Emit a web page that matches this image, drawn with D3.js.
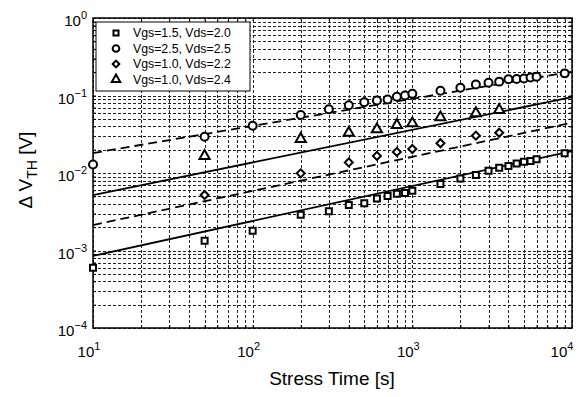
<!DOCTYPE html>
<html>
<head>
<meta charset="utf-8">
<script src="https://cdn.jsdelivr.net/npm/d3@7"></script>
<style>
body { margin:0; background:#fff; }
text { font-family: "Liberation Sans", Arial, sans-serif; }
</style>
</head>
<body>
<svg></svg>
<script>
// stress times (s)
var tA = [10,50,100,200,300,400,500,600,700,800,900,1000,1500,2000,2500,3000,3500,4000,4500,5000,5500,6000,9000]
var tB = [50,200,400,600,800,1000,1500,2500,3500]

// Vgs=1.5, Vds=2.0 (squares)
var sq = [6.0e-4,1.34e-3,1.8e-3,2.9e-3,3.2e-3,3.86e-3,4.07e-3,4.7e-3,5.05e-3,5.4e-3,5.5e-3,5.9e-3,7.2e-3,8.5e-3,9.4e-3,1.07e-2,1.17e-2,1.23e-2,1.33e-2,1.4e-2,1.43e-2,1.5e-2,1.8e-2]
// Vgs=2.5, Vds=2.5 (circles)
var ci = [1.29e-2,2.94e-2,4.07e-2,5.6e-2,6.64e-2,7.5e-2,8.2e-2,8.6e-2,8.9e-2,9.66e-2,0.1,0.105,0.115,0.126,0.139,0.146,0.151,0.162,0.163,0.166,0.171,0.175,0.193]
// Vgs=1.0, Vds=2.2 (diamonds)
var di = [5.2e-3,9.9e-3,1.37e-2,1.66e-2,1.87e-2,2.04e-2,2.42e-2,3.03e-2,3.31e-2]
// Vgs=1.0, Vds=2.4 (triangles)
var tr = [1.66e-2,2.75e-2,3.3e-2,3.66e-2,4.16e-2,4.38e-2,5.23e-2,5.9e-2,6.5e-2]

// power-law fits, value at t=10 and t=1e4
var fitT = [10,10000]
var fitSq = [8.5e-4,1.92e-2]
var fitCi = [1.81e-2,0.203]
var fitDi = [2.13e-3,4.46e-2]
var fitTr = [5.2e-3,9.5e-2]

var legendLabels = ["Vgs=1.5, Vds=2.0","Vgs=2.5, Vds=2.5","Vgs=1.0, Vds=2.2","Vgs=1.0, Vds=2.4"]
var xTicks = [10,100,1000,10000]
var yTicks = [1e-4,1e-3,1e-2,1e-1,1]

var screen = {width:577,height:397}
var margins = {top:18,right:5,bottom:69,left:93}
var width = screen.width - margins.left - margins.right
var height = screen.height - margins.top - margins.bottom

var svg = d3.select("svg")
    .attr("width",screen.width)
    .attr("height",screen.height)

var g = svg.append("g")
    .attr("transform","translate("+margins.left+","+margins.top+")")

var xScale = d3.scaleLog().domain([10,10000]).range([0,width])
var yScale = d3.scaleLog().domain([1e-4,1]).range([height,0])

var minorX = []
xTicks.slice(0,-1).forEach(function(d){ for(var k=1;k<10;k++) minorX.push(d*k) })
minorX.push(10000)
var minorY = []
yTicks.slice(0,-1).forEach(function(d){ for(var k=1;k<10;k++) minorY.push(d*k) })
minorY.push(1)

// grid
g.append("g").attr("class","grid")
    .attr("transform","translate(0,"+height+")")
    .call(d3.axisBottom(xScale).tickValues(minorX).tickSize(-height).tickFormat(""))
g.append("g").attr("class","grid")
    .call(d3.axisLeft(yScale).tickValues(minorY).tickSize(-width).tickFormat(""))
g.selectAll(".grid .domain").remove()
g.selectAll(".grid line")
    .attr("stroke","#222")
    .attr("stroke-width",1)
    .attr("shape-rendering","crispEdges")
    .attr("stroke-dasharray","3,2")

// inward ticks
var tickAxes = [
    {ax:d3.axisBottom(xScale), vals:minorX, tr:"translate(0,"+height+")"},
    {ax:d3.axisTop(xScale), vals:minorX, tr:"translate(0,0)"},
    {ax:d3.axisLeft(yScale), vals:minorY, tr:"translate(0,0)"},
    {ax:d3.axisRight(yScale), vals:minorY, tr:"translate("+width+",0)"}
]
tickAxes.forEach(function(a){
    var t = g.append("g").attr("transform",a.tr)
        .call(a.ax.tickValues(a.vals).tickSizeInner(-3).tickSizeOuter(0).tickFormat(""))
    t.select(".domain").remove()
    t.selectAll("line").attr("stroke","#000").attr("stroke-width",1)
})

// tick labels with superscripts
xTicks.forEach(function(d,i){
    var tx = g.append("text")
        .attr("x",xScale(d)-4-(i==xTicks.length-1 ? 6 : 0))
        .attr("y",height+29)
        .attr("text-anchor","middle")
        .attr("font-size",15)
    tx.append("tspan").text("10")
    tx.append("tspan").attr("dy",-7).attr("font-size",11).text(Math.round(Math.log10(d)))
})
yTicks.forEach(function(d){
    var e = Math.round(Math.log10(d))
    var tx = g.append("text")
        .attr("x",-6)
        .attr("y",yScale(d)+8)
        .attr("text-anchor","end")
        .attr("font-size",15)
    tx.append("tspan").text("10")
    tx.append("tspan").attr("dy",-7).attr("font-size",11).text(e==0 ? "0" : "\u2212"+(-e))
})

// box
g.append("rect").attr("width",width).attr("height",height)
    .attr("fill","none").attr("stroke","#000").attr("stroke-width",1.5)

// fit lines
var line = d3.line().x(function(d){return xScale(d[0])}).y(function(d){return yScale(d[1])})
var fits = [
    {v:fitSq, dash:null},
    {v:fitCi, dash:"9,5"},
    {v:fitDi, dash:"9,5"},
    {v:fitTr, dash:null}
]
fits.forEach(function(f){
    g.append("path")
        .datum(fitT.map(function(t,i){return [t,f.v[i]]}))
        .attr("d",line)
        .attr("fill","none")
        .attr("stroke","#000")
        .attr("stroke-width",1.8)
        .attr("stroke-dasharray",f.dash)
})

// markers (diamond = square turned 45deg)
var shapes = [d3.symbolSquare,d3.symbolCircle,d3.symbolSquare,d3.symbolTriangle]
var rot = [0,0,45,0]
var sizes = [36,50,32,45]
var series = [
    {t:tA, v:sq},
    {t:tA, v:ci},
    {t:tB, v:di},
    {t:tB, v:tr}
]
series.forEach(function(s,i){
    g.append("g").selectAll("path")
        .data(s.v)
        .enter()
        .append("path")
        .attr("transform",function(d,j){return "translate("+xScale(s.t[j])+","+yScale(d)+") rotate("+rot[i]+")"})
        .attr("d",d3.symbol().type(shapes[i]).size(sizes[i]))
        .attr("fill","#fff")
        .attr("stroke","#000")
        .attr("stroke-width",2)
})

// legend
var lg = g.append("g").attr("transform","translate(3,4)")
lg.append("rect").attr("width",154).attr("height",69)
    .attr("fill","#fff").attr("stroke","#000").attr("stroke-width",1)
legendLabels.forEach(function(d,i){
    lg.append("path")
        .attr("transform","translate(20,"+(11+i*15.5)+") rotate("+rot[i]+")")
        .attr("d",d3.symbol().type(shapes[i]).size(sizes[i]*0.7))
        .attr("fill","#fff").attr("stroke","#000").attr("stroke-width",2)
    lg.append("text")
        .attr("x",37).attr("y",15+i*15.5)
        .attr("font-size",12.3)
        .text(d)
})

// axis titles
svg.append("text")
    .attr("x",332).attr("y",385)
    .attr("text-anchor","middle")
    .attr("font-size",19)
    .text("Stress Time [s]")

var yt = svg.append("text")
    .attr("transform","translate(32,170) rotate(-90)")
    .attr("text-anchor","middle")
    .attr("font-size",19)
yt.append("tspan").text("\u0394 V")
yt.append("tspan").attr("dy",5).attr("font-size",14).text("TH")
yt.append("tspan").attr("dy",-5).text(" [V]")
</script>
</body>
</html>
